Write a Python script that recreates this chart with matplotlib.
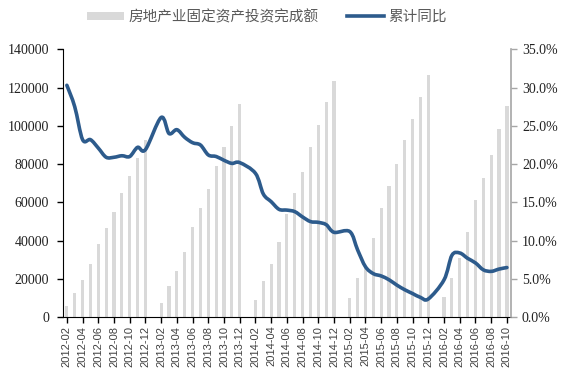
import matplotlib
matplotlib.use("Agg")
import matplotlib.pyplot as plt
from matplotlib.path import Path
from matplotlib.patches import PathPatch
from matplotlib.lines import Line2D
from matplotlib.patches import Patch
import numpy as np

months = []
for y in range(2012, 2017):
    for m in range(1, 13):
        if (y == 2012 and m < 2) or (y == 2016 and m > 10):
            continue
        months.append(f"{y}-{m:02d}")

# 房地产业固定资产投资完成额 (None = January, no data)
investment = [
    5900, 12850, 19500, 27700, 38300, 46500, 55200, 65100, 74000, 83400, 92600,
    None,
    7600, 16350, 24350, 34300, 47000, 56900, 67000, 79000, 89100, 99900, 111300,
    None,
    9000, 18950, 27850, 39200, 53950, 64800, 76100, 89100, 100300, 112300, 123400,
    None,
    10250, 20700, 27000, 41600, 57100, 68600, 79900, 92600, 103750, 115250, 126600,
    None,
    10760, 20500, 30800, 44700, 61300, 72950, 84600, 98200, 110550,
]

# 累计同比 (%)
yoy = [
    30.3, 27.5, 23.2, 23.2, 22.1, 20.9, 20.9, 21.1, 21.0, 22.2, 21.9,
    None,
    26.1, 24.0, 24.5, 23.5, 22.8, 22.5, 21.2, 21.0, 20.5, 20.1, 20.2,
    None,
    18.8, 16.1, 15.1, 14.1, 14.0, 13.8, 13.1, 12.5, 12.4, 12.1, 11.1,
    None,
    11.2, 8.8, 6.6, 5.7, 5.4, 4.9, 4.2, 3.6, 3.1, 2.6, 2.4,
    None,
    4.9, 8.1, 8.4, 7.7, 7.1, 6.2, 6.0, 6.3, 6.5,
]

bar_color = "#d9d9d9"
line_color = "#2d5b8c"

fig = plt.figure(figsize=(5.62, 3.72), dpi=100)
ax = fig.add_axes([0.112, 0.147, 0.797, 0.7205])
ax2 = ax.twinx()

x = np.arange(len(months))
bx = [i for i, v in zip(x, investment) if v is not None]
bv = [v for v in investment if v is not None]
ax.bar(bx, bv, width=0.4, color=bar_color, zorder=1)

# smoothed line (Catmull-Rom style Bezier like Excel smoothing)
lx = np.array([i for i, v in zip(x, yoy) if v is not None], dtype=float)
ly = np.array([v for v in yoy if v is not None], dtype=float)
pts = np.column_stack([lx, ly])
verts = [tuple(pts[0])]
codes = [Path.MOVETO]
n = len(pts)
for k in range(n - 1):
    p0 = pts[k - 1] if k > 0 else pts[k]
    p1 = pts[k]
    p2 = pts[k + 1]
    p3 = pts[k + 2] if k + 2 < n else pts[k + 1]
    c1 = p1 + (p2 - p0) / 6.0
    c2 = p2 - (p3 - p1) / 6.0
    verts += [tuple(c1), tuple(c2), tuple(p2)]
    codes += [Path.CURVE4] * 3
path = Path(verts, codes)
ax2.add_patch(PathPatch(path, facecolor="none", edgecolor=line_color, lw=2.6,
                        capstyle="round", joinstyle="round", zorder=3))

ax.set_xlim(-0.5, len(months) - 0.5)
ax.set_ylim(0, 140000)
ax2.set_ylim(0, 35)

ax.set_yticks(np.arange(0, 140001, 20000))
ax.set_yticklabels([f"{v:d}" for v in range(0, 140001, 20000)],
                   fontfamily="Liberation Serif", fontsize=10, color="#222222")
ax2.set_yticks(np.arange(0, 35.1, 5))
ax2.set_yticklabels([f"{v:.1f}%" for v in np.arange(0, 35.1, 5)],
                    fontfamily="Liberation Serif", fontsize=10, color="#222222")

ax.set_xticks(x[::2])
ax.set_xticklabels(months[::2], rotation=90, fontfamily="Liberation Sans",
                   fontsize=8, color="#404040")

for a in (ax, ax2):
    a.spines["top"].set_visible(False)
ax.spines["right"].set_visible(False)
ax2.spines["left"].set_visible(False)
ax2.spines["bottom"].set_visible(False)
ax.spines["left"].set_color("black")
ax.spines["bottom"].set_color("black")
ax2.spines["right"].set_color("#a6a6a6")
ax2.spines["right"].set_linewidth(1.2)
ax.tick_params(axis="y", direction="out", length=4, width=1, pad=6)
ax.tick_params(axis="x", direction="out", length=4, width=1, pad=2)
ax2.tick_params(axis="y", direction="out", length=4, width=1, color="#a6a6a6", pad=4)

handles = [Patch(facecolor=bar_color, edgecolor="none"),
           Line2D([0], [0], color=line_color, lw=2.6)]
leg = fig.legend(handles, ["房地产业固定资产投资完成额", "累计同比"],
                 loc="center", bbox_to_anchor=(0.475, 0.955), ncol=2,
                 frameon=False, handlelength=2.5, handleheight=0.5,
                 columnspacing=2.0, handletextpad=0.3,
                 prop={"family": ["Noto Sans CJK SC", "DejaVu Sans"], "size": 10.5})
for t in leg.get_texts():
    t.set_color("#595959")

fig.savefig("out.png", dpi=100)
